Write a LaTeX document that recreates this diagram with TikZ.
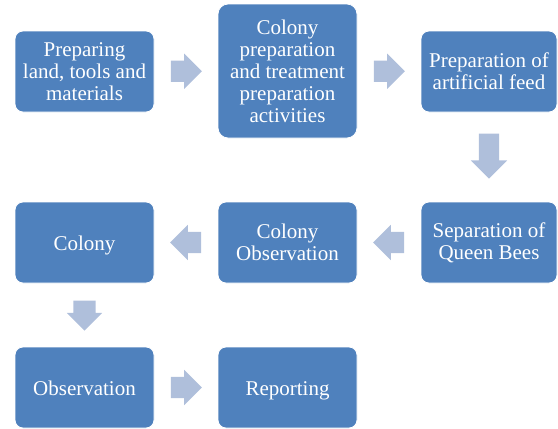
\documentclass[tikz,border=0pt]{standalone}
\usepackage{fontspec}
\setmainfont{Liberation Serif}
\usetikzlibrary{positioning, calc, shapes.arrows}

\definecolor{boxblue}{RGB}{79,129,189}
\definecolor{arrowblue}{RGB}{175,191,219}

\tikzset{
    stage/.style={draw=white, line width=0.8pt, fill=boxblue, rounded corners=8pt,
        text=white, align=center, inner sep=2pt, minimum width=139pt, minimum height=81pt,
        font=\rmfamily\fontsize{21}{22}\selectfont},
    oneline/.style={text height=16pt, text depth=0pt},
    flow/.style={single arrow, fill=arrowblue, draw=none, inner xsep=0pt, inner ysep=10.5pt,
        minimum height=31pt, single arrow head extend=7pt}
}

\begin{document}
\begin{tikzpicture}[x=1pt, y=-1pt]
    \useasboundingbox (0,0) rectangle (558,429);

    % stages, row by row
    \node[stage] (prep) at (84.5,71.5) {Preparing\\land, tools and\\materials};
    \node[stage, minimum height=134pt, rounded corners=10pt] (colprep) at (287.5,71)
        {Colony\\preparation\\and treatment\\preparation\\activities};
    \node[stage, minimum width=136pt] (feed) at (489,71.5) {Preparation of\\artificial feed};

    \node[stage, minimum width=136pt] (queen) at (489,242.5) {Separation of\\Queen Bees};
    \node[stage] (colobs) at (287.5,242.5) {Colony\\Observation};
    \node[stage, oneline] (colony) at (84.5,242.5) {Colony};

    \node[stage, oneline] (obs) at (84.5,387.5) {Observation};
    \node[stage, oneline] (report) at (287.5,387.5) {Reporting};

    % block arrows between stages
    \node[flow] (f1) at ($(prep.east)!0.5!(colprep.west)+(-5,0)$) {};
    \node[flow] (f2) at ($(colprep.east)!0.5!(feed.west)+(-5,0)$) {};
    \node[flow, rotate=-90, minimum height=45pt, inner ysep=10pt, single arrow head extend=8pt] (f3)
        at ($(feed.south)!0.5!(queen.north)+(0,-6)$) {};
    \node[flow, rotate=180] (f4) at ($(queen.west)!0.5!(colobs.east)+(5,0)$) {};
    \node[flow, rotate=180] (f5) at ($(colobs.west)!0.5!(colony.east)+(5,0)$) {};
    \node[flow, rotate=-90, minimum height=30pt, inner ysep=11pt, single arrow head extend=6.5pt] (f6)
        at ($(colony.south)!0.5!(obs.north)+(0,-5)$) {};
    \node[flow] (f7) at ($(obs.east)!0.5!(report.west)+(-5,0)$) {};
\end{tikzpicture}
\end{document}
